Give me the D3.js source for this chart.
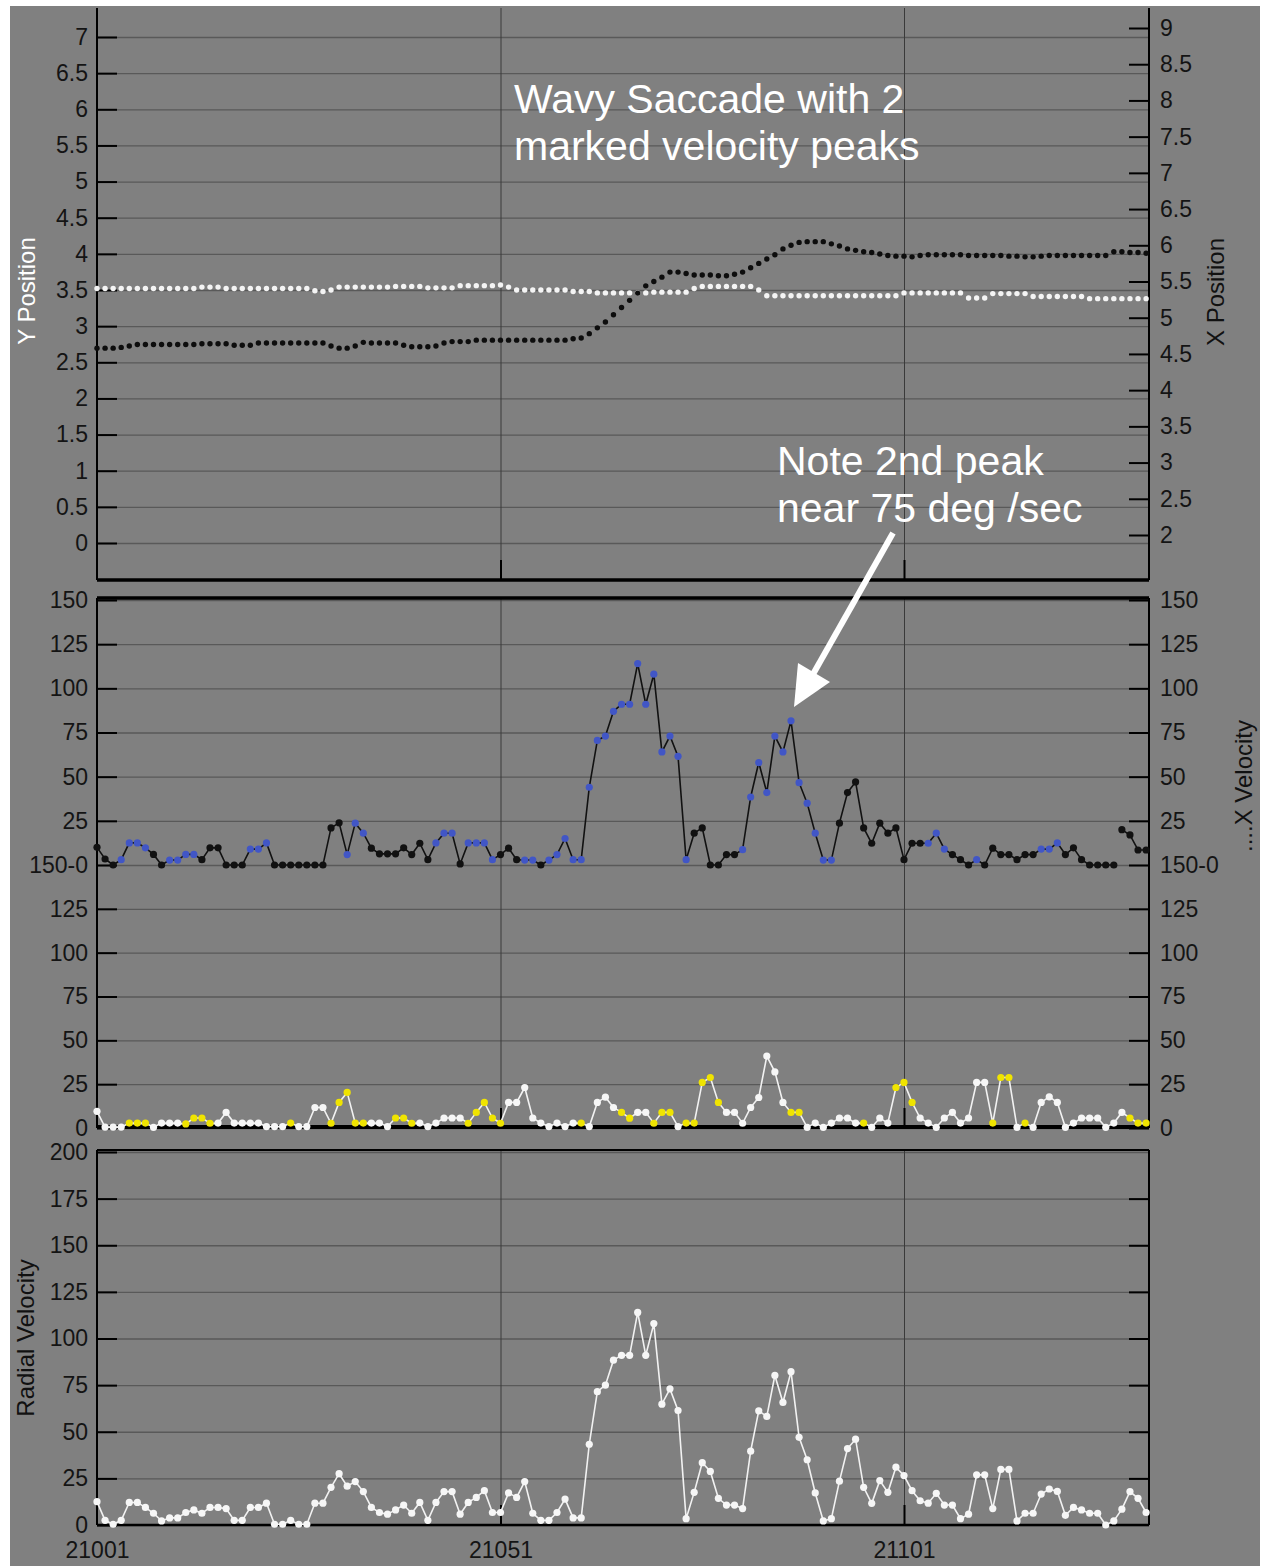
<!DOCTYPE html>
<html>
<head>
<meta charset="utf-8">
<script src="https://cdn.jsdelivr.net/npm/d3@7"></script>
<style>
  body { margin: 0; background: #fff; }
  svg text { font-family: "Liberation Sans", Arial, sans-serif; }
</style>
</head>
<body>
<svg id="chart" width="1262" height="1566"></svg>
<script>
// ---- data ----
var sampleStart = 21001;
var sampleTicks = [21001, 21051, 21101];

var yPosition = [
  3.52,3.52,3.52,3.52,3.52,3.52,3.52,3.52,3.52,3.52,
  3.52,3.52,3.52,3.54,3.54,3.54,3.52,3.52,3.52,3.52,
  3.52,3.52,3.52,3.52,3.52,3.52,3.52,3.49,3.48,3.50,
  3.54,3.54,3.54,3.54,3.54,3.54,3.54,3.55,3.55,3.55,
  3.55,3.53,3.53,3.53,3.53,3.56,3.56,3.56,3.56,3.56,
  3.57,3.54,3.50,3.50,3.50,3.50,3.50,3.50,3.50,3.48,
  3.48,3.48,3.46,3.46,3.46,3.46,3.46,3.46,3.46,3.47,
  3.47,3.47,3.47,3.47,3.52,3.55,3.55,3.55,3.55,3.55,
  3.55,3.55,3.50,3.42,3.42,3.42,3.42,3.42,3.42,3.42,
  3.42,3.42,3.42,3.42,3.42,3.42,3.42,3.42,3.42,3.42,
  3.46,3.46,3.46,3.46,3.46,3.46,3.46,3.46,3.39,3.39,
  3.39,3.45,3.45,3.45,3.45,3.45,3.41,3.41,3.41,3.41,
  3.41,3.41,3.41,3.38,3.38,3.38,3.38,3.38,3.38,3.38,
  3.38
];

var xPosition = [
  4.58,4.58,4.58,4.59,4.61,4.63,4.63,4.63,4.63,4.63,
  4.63,4.63,4.63,4.64,4.64,4.64,4.64,4.62,4.62,4.62,
  4.65,4.65,4.65,4.65,4.65,4.65,4.65,4.65,4.65,4.61,
  4.58,4.58,4.61,4.66,4.65,4.65,4.65,4.65,4.62,4.60,
  4.60,4.60,4.61,4.65,4.67,4.67,4.67,4.69,4.69,4.69,
  4.69,4.69,4.69,4.69,4.69,4.69,4.69,4.69,4.69,4.71,
  4.72,4.78,4.86,4.94,5.04,5.14,5.24,5.34,5.44,5.50,
  5.56,5.63,5.63,5.61,5.59,5.59,5.59,5.58,5.58,5.60,
  5.63,5.69,5.75,5.81,5.87,5.95,6.00,6.04,6.05,6.05,
  6.05,6.02,5.99,5.95,5.93,5.91,5.90,5.88,5.86,5.85,
  5.85,5.84,5.86,5.87,5.87,5.87,5.87,5.87,5.86,5.86,
  5.86,5.86,5.86,5.85,5.85,5.84,5.84,5.85,5.86,5.86,
  5.86,5.86,5.86,5.86,5.86,5.86,5.91,5.91,5.90,5.90,
  5.89
];

var xVelocity = [
  10,3.4,0,3,12.5,12.5,9.7,6,0,2.8,
  2.8,6,6,3,9.7,9.7,0,0,0,9,
  9,12.5,0,0,0,0,0,0,0,21,
  23.9,5.9,23.7,18,9.5,6.3,6.3,6.3,9.7,5.9,
  12.3,3,12.5,18,18,0.6,12.5,12.5,12.5,3,
  5.9,9.5,3,2.8,2.8,0,2.8,5.9,15,3,
  3,44,70.5,73,87,91,91,114,91,108,
  64,73,61.5,3,18,21,0,0,5.9,5.9,
  8.7,38.5,58,41,73,64,81.6,46.6,35,18,
  2.8,2.8,23.7,41,47,21,12.3,23.7,18,21,
  3,12.3,12.3,12.3,18,9,5.9,3,0,3,
  0,9.5,5.9,5.9,3,5.9,5.9,9,9,12.5,
  5.9,9.7,3,0,0,0,0,20,17,8.5,
  8.5
];
// k = black dot, b = blue dot
var xVelDotColor = ["kkk","bbbb","kk","bbbb","kkkkkk","bbb","kkkkkkkkk","bbb",
  "kkkkkkkk","bbb","k","bbbb","kkk","bb","k","bbbbbbbbbbbbbbbbbb","kkkkkk",
  "bbbbbbbbbbbb","kkkkkkkkkkk","bbb","kkk","b","kkkkkkk","bbb","kkkkkkkkkkk"].join("").split("");
var xVelGapBefore = 127;

var yVelocity = [
  9.5,0.5,0.5,0.5,2.8,2.8,2.8,0.4,2.8,2.8,
  2.8,2.3,5.7,5.7,2.7,2.8,8.9,2.8,2.8,2.8,
  2.8,0.8,0.8,0.8,2.8,0.8,0.8,11.7,11.7,2.7,
  14.6,20.3,2.8,2.8,2.8,2.8,0.8,5.7,5.7,2.7,
  2.8,0.8,2.8,5.7,5.7,5.7,2.7,8.9,14.6,5.7,
  2.7,14.6,14.6,23.1,5.7,2.8,0.8,2.8,0.8,2.8,
  2.8,0.8,14.6,17.6,11.7,8.9,5.6,8.9,8.9,2.7,
  8.9,8.9,0.8,2.8,2.8,26,28.8,14.6,8.9,8.9,
  2.7,11.7,17.4,41,32,14.6,8.9,8.9,0.4,2.8,
  0.4,2.8,5.7,5.7,2.8,2.8,0.4,5.7,2.8,23.1,
  26,14.6,5.7,2.8,0.4,5.7,8.9,2.8,5.7,26,
  26,2.8,28.8,28.8,0.4,2.8,0.4,14.6,17.8,14.6,
  0.4,2.8,5.7,5.7,5.7,0.4,2.8,8.9,5.7,2.8,
  2.8
];
// w = white dot, y = yellow dot
var yVelDotColor = ["wwww","yyy","wwww","yyyy","wwwwwwwww","y","wwww","yyyyy",
  "www","yyy","wwwwww","yyyyy","wwwwwwwww","y","wwww","yy","ww","yyy","w",
  "yyyyy","wwwwwwww","yy","wwwwwww","y","www","yyy","wwwwwwwww","yyy","w","y",
  "wwwwwwwwwwww","yyy"].join("").split("");

var radialVelocity = [
  12.5,2.5,0.4,2.5,12.1,12.1,9.4,6.3,2.2,3.8,
  3.8,6.7,8.1,6.3,9.4,9.4,8.8,2.5,2.5,9.4,
  9.4,11.7,0.4,0.4,2.5,0.4,0.4,11.7,11.7,20.2,
  27.5,20.8,23.3,17.9,9.4,6.7,5.8,8.1,10.7,6.3,
  12.1,2.5,12.1,17.9,17.9,5.8,12.1,14.8,18.4,6.7,
  6.7,17.2,14.8,23.3,6.3,2.5,2.5,6.7,13.9,3.8,
  3.8,43.3,71.5,75,88.4,91,91,114,91,108,
  64.8,73,61.4,3.4,17.5,33.4,28.7,14.3,10.7,10.7,
  8.8,39.6,61.2,58.2,80.2,65.7,82.2,47,35,17.2,
  2.2,3.4,23.5,41,46,20.2,11.6,23.8,17.5,31,
  26.5,18.4,13,11.7,17,10.7,10.7,3.4,5.8,26.9,
  26.9,8.8,29.8,29.8,2.2,6.3,6.3,16.6,19.3,18,
  5.2,9.4,8.1,6.3,6.3,0,2.2,8.5,17.9,14.3,
  6.7
];

var yPosTicks = [0,0.5,1,1.5,2,2.5,3,3.5,4,4.5,5,5.5,6,6.5,7];
var xPosTicks = [2,2.5,3,3.5,4,4.5,5,5.5,6,6.5,7,7.5,8,8.5,9];
var velUpperTicks = [0,25,50,75,100,125,150];
var velLowerTicks = [0,25,50,75,100,125];
var radialTicks = [0,25,50,75,100,125,150,175,200];

// ---- layout ----
var svg = d3.select("#chart");
var left = 97, right = 1149;
var FONT = "Liberation Sans, Arial, sans-serif";

svg.append("rect").attr("x", 10).attr("y", 6).attr("width", 1250).attr("height", 1560)
  .attr("fill", "#808080");

var x = d3.scaleLinear().domain([21001, 21101]).range([97, 904]);

var panels = {
  top: { y0: 8, y1: 580 },
  mid: { y0: 598, y1: 1128 },
  bot: { y0: 1150, y1: 1525 }
};

var yPos = d3.scaleLinear().domain([0, 7]).range([543, 37]);
var xPos = d3.scaleLinear().domain([2, 9]).range([535, 28]);
var vUp = d3.scaleLinear().domain([0, 150]).range([865, 600]);
var vLo = d3.scaleLinear().domain([0, 150]).range([1128, 865]);
var rad = d3.scaleLinear().domain([0, 200]).range([1525, 1152]);

var samples = xPosition.map(function (d, i) { return sampleStart + i; });

function styleAxis(g, color) {
  g.attr("font-family", FONT).attr("font-size", 23);
  g.select(".domain").remove();
  g.selectAll(".tick line").attr("stroke", "#000").attr("stroke-width", 2);
  g.selectAll(".tick text").attr("fill", color || "#141414");
}

// horizontal grid lines
function hGrid(scale, ticks) {
  var g = svg.append("g").attr("transform", "translate(" + left + ",0)")
    .call(d3.axisLeft(scale).tickValues(ticks).tickSize(-(right - left)).tickFormat(""));
  g.select(".domain").remove();
  g.selectAll(".tick line").attr("stroke", "#595959").attr("stroke-width", 1.3);
}
hGrid(yPos, yPosTicks);
hGrid(vUp, velUpperTicks);
hGrid(vLo, velLowerTicks);
hGrid(rad, radialTicks);

// vertical grid lines
Object.keys(panels).forEach(function (k) {
  var p = panels[k];
  var g = svg.append("g").attr("transform", "translate(0," + p.y1 + ")")
    .call(d3.axisBottom(x).tickValues(sampleTicks.slice(1)).tickSize(-(p.y1 - p.y0)).tickFormat(""));
  g.select(".domain").remove();
  g.selectAll(".tick line").attr("stroke", "#3a3a3a").attr("stroke-width", 1);
  // short inward ticks at the bottom
  var t = svg.append("g").attr("transform", "translate(0," + p.y1 + ")")
    .call(d3.axisBottom(x).tickValues(sampleTicks.slice(1)).tickSize(-20).tickFormat(""));
  t.select(".domain").remove();
  t.selectAll(".tick line").attr("stroke", "#000").attr("stroke-width", 2);
});

// ---- axes ----
var fmt = function (d) { return String(d); };

styleAxis(svg.append("g").attr("transform", "translate(" + left + ",0)")
  .call(d3.axisLeft(yPos).tickValues(yPosTicks).tickSize(-20).tickSizeOuter(0).tickPadding(9).tickFormat(fmt)));
styleAxis(svg.append("g").attr("transform", "translate(" + right + ",0)")
  .call(d3.axisRight(xPos).tickValues(xPosTicks).tickSize(-20).tickSizeOuter(0).tickPadding(11).tickFormat(fmt)));

var upFmt = function (d) { return d === 0 ? "150-0" : String(d); };
styleAxis(svg.append("g").attr("transform", "translate(" + left + ",0)")
  .call(d3.axisLeft(vUp).tickValues(velUpperTicks).tickSize(-20).tickSizeOuter(0).tickPadding(9).tickFormat(upFmt)));
styleAxis(svg.append("g").attr("transform", "translate(" + left + ",0)")
  .call(d3.axisLeft(vLo).tickValues(velLowerTicks).tickSize(-20).tickSizeOuter(0).tickPadding(9).tickFormat(fmt)));
styleAxis(svg.append("g").attr("transform", "translate(" + right + ",0)")
  .call(d3.axisRight(vUp).tickValues(velUpperTicks).tickSize(-20).tickSizeOuter(0).tickPadding(11).tickFormat(upFmt)));
styleAxis(svg.append("g").attr("transform", "translate(" + right + ",0)")
  .call(d3.axisRight(vLo).tickValues(velLowerTicks).tickSize(-20).tickSizeOuter(0).tickPadding(11).tickFormat(fmt)));

styleAxis(svg.append("g").attr("transform", "translate(" + left + ",0)")
  .call(d3.axisLeft(rad).tickValues(radialTicks).tickSize(-20).tickSizeOuter(0).tickPadding(9).tickFormat(fmt)));
styleAxis(svg.append("g").attr("transform", "translate(" + right + ",0)")
  .call(d3.axisRight(rad).tickValues(radialTicks.slice(1, -1)).tickSize(-20).tickSizeOuter(0).tickFormat("")));

styleAxis(svg.append("g").attr("transform", "translate(0," + panels.bot.y1 + ")")
  .call(d3.axisBottom(x).tickValues(sampleTicks).tickSize(0).tickPadding(17).tickFormat(fmt)));

// panel frames
Object.keys(panels).forEach(function (k) {
  var p = panels[k];
  [left, right].forEach(function (xx) {
    svg.append("line").attr("x1", xx).attr("x2", xx).attr("y1", p.y0).attr("y2", p.y1)
      .attr("stroke", "#000").attr("stroke-width", 2);
  });
});
[[580, 3.5], [598, 3.5], [1127, 4], [1150, 2], [1525, 2.5]].forEach(function (h) {
  svg.append("line").attr("x1", left).attr("x2", right).attr("y1", h[0]).attr("y2", h[0])
    .attr("stroke", "#000").attr("stroke-width", h[1]);
});

// ---- position traces (dots only) ----
svg.append("g").selectAll("circle").data(yPosition).enter().append("circle")
  .attr("cx", function (d, i) { return x(samples[i]); })
  .attr("cy", function (d) { return yPos(d); })
  .attr("r", 2.7).attr("fill", "#f4f4f4");
svg.append("g").selectAll("circle").data(xPosition).enter().append("circle")
  .attr("cx", function (d, i) { return x(samples[i]); })
  .attr("cy", function (d) { return xPos(d); })
  .attr("r", 2.7).attr("fill", "#0d0d0d");

// ---- velocity traces ----
function trace(values, scale, lineColor, dotColor, gapBefore) {
  var pts = values.map(function (v, i) { return { s: samples[i], v: v, i: i }; });
  var line = d3.line()
    .x(function (d) { return x(d.s); })
    .y(function (d) { return scale(d.v); });
  var segs = gapBefore ? [pts.slice(0, gapBefore), pts.slice(gapBefore)] : [pts];
  segs.forEach(function (seg) {
    svg.append("path").attr("d", line(seg)).attr("fill", "none")
      .attr("stroke", lineColor).attr("stroke-width", 1.6);
  });
  svg.append("g").selectAll("circle").data(pts).enter().append("circle")
    .attr("cx", function (d) { return x(d.s); })
    .attr("cy", function (d) { return scale(d.v); })
    .attr("r", 3.6)
    .attr("fill", function (d) { return dotColor(d.i); });
}

var xVelPalette = { k: "#111111", b: "#4156c6" };
var yVelPalette = { w: "#f6f6f6", y: "#f0e400" };
trace(xVelocity, vUp, "#111111", function (i) { return xVelPalette[xVelDotColor[i]]; }, xVelGapBefore);
trace(yVelocity, vLo, "#f2f2f2", function (i) { return yVelPalette[yVelDotColor[i]]; });
trace(radialVelocity, rad, "#f2f2f2", function () { return "#f6f6f6"; });

// ---- axis titles ----
function vTitle(txt, cx, cy, color) {
  svg.append("text").attr("transform", "translate(" + cx + "," + cy + ") rotate(-90)")
    .attr("text-anchor", "middle").attr("font-size", 24).attr("fill", color).text(txt);
}
vTitle("Y Position", 35, 291, "#ffffff");
vTitle("X Position", 1224, 292, "#111111");
vTitle("....X Velocity", 1252, 786, "#111111");
vTitle("Radial Velocity", 34, 1338, "#111111");

// ---- annotations ----
function note(lines, x0, y0) {
  lines.forEach(function (t, k) {
    svg.append("text").attr("x", x0).attr("y", y0 + k * 47)
      .attr("font-size", 41).attr("fill", "#ffffff").text(t);
  });
}
note(["Wavy Saccade with 2", "marked velocity peaks"], 514, 113);
note(["Note 2nd peak", "near 75 deg /sec"], 777, 475);

svg.append("line").attr("x1", 893).attr("y1", 533).attr("x2", 812).attr("y2", 676)
  .attr("stroke", "#ffffff").attr("stroke-width", 6);
svg.append("polygon").attr("points", "794,707 798,663 830,682").attr("fill", "#ffffff");
</script>
</body>
</html>
